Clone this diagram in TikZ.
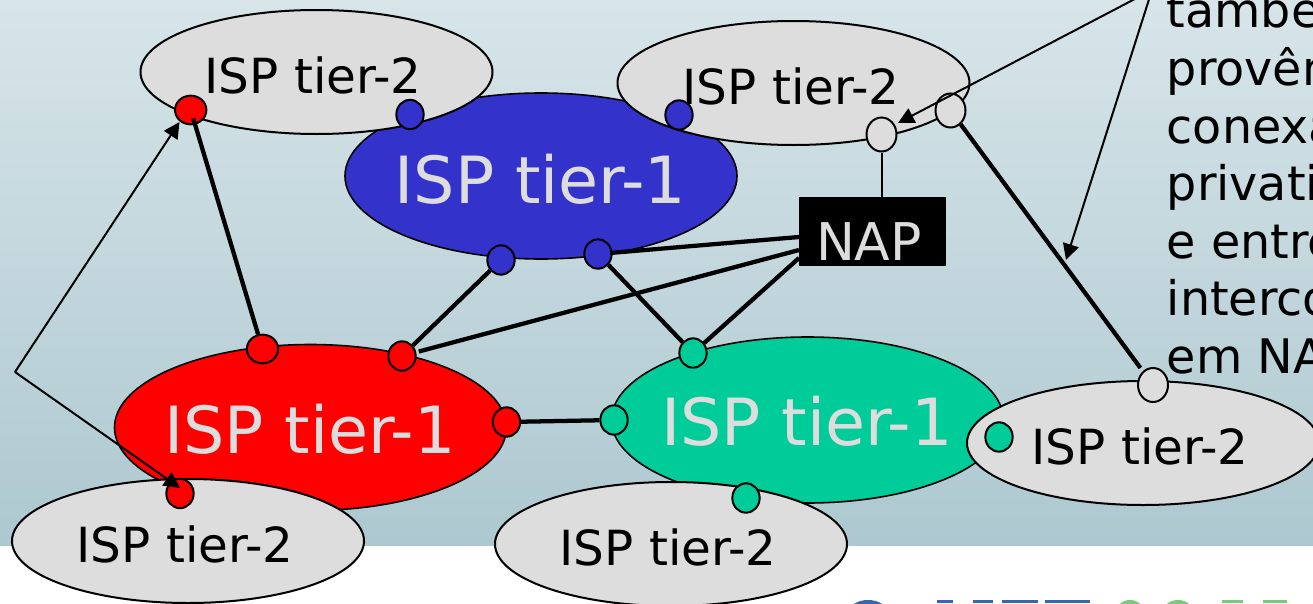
\documentclass[tikz,border=0pt]{standalone}
\usepackage{fontspec}
\setmainfont{DejaVu Sans}
\usetikzlibrary{arrows.meta,shapes.geometric}
\definecolor{bgtop}{HTML}{D7E5E9}
\definecolor{bgbot}{HTML}{ADC8D0}
\definecolor{ispgray}{HTML}{DDDDDD}
\definecolor{ispblue}{HTML}{3333CC}
\definecolor{ispred}{HTML}{FF0000}
\definecolor{ispgreen}{HTML}{00CC99}
\definecolor{logoblue}{HTML}{3A66AE}
\definecolor{logogreen}{HTML}{7CC87C}
\pgfdeclareverticalshading{bgfade}{100bp}{color(0bp)=(bgbot); color(25bp)=(bgbot); color(75bp)=(bgtop); color(100bp)=(bgtop)}
\tikzset{
	tiertwo/.style={ellipse, draw=black, line width=1.5pt, fill=ispgray, minimum width=264pt, minimum height=93pt, inner sep=0pt},
	tierone/.style={ellipse, draw=black, line width=1.2pt, minimum width=294pt, minimum height=124.5pt, inner sep=0pt},
	port/.style={ellipse, draw=black, line width=1.5pt, minimum width=20.5pt, minimum height=22pt, inner sep=0pt},
	wideport/.style={port, minimum width=23.5pt, minimum height=21.5pt},
	grayport/.style={port, fill=ispgray, minimum width=22.5pt, minimum height=25.5pt},
	twotext/.style={anchor=base, font=\fontsize{36.3}{36.3}\selectfont},
	onetext/.style={anchor=base, text=ispgray, font=\fontsize{48.8}{48.8}\selectfont},
	sideline/.style={anchor=base west, inner sep=0pt, font=\fontsize{35.7}{35.7}\selectfont},
	link/.style={line width=3.2pt},
	thinline/.style={line width=1.5pt},
	pointer/.style={line width=1.5pt, -{Triangle[length=12pt,width=12pt]}},
}

\begin{document}
\begin{tikzpicture}[x=0.75pt,y=-0.75pt]
	%%%%% START %%%%%
	\useasboundingbox (0,0) rectangle (1313,603);
	\clip (0,0) rectangle (1313,603);

	\fill[white] (0,0) rectangle (1313,603);
	\shade[shading=bgfade] (0,0) rectangle (1313,545);

	% logo, only its top edge is on the page
	\fill[logoblue] (868,612) ellipse (19 and 12);
	\fill[logoblue] (937,600) rectangle (953,603);
	\fill[logoblue] (973,600) rectangle (993,603);
	\fill[logoblue] (1002,600) rectangle (1038,603);
	\fill[logoblue] (1045,600) rectangle (1090,603);
	\fill[logogreen] (1130,612) ellipse (14 and 12);
	\fill[logogreen] (1178,612) ellipse (15 and 12);
	\fill[logogreen] (1222,600) rectangle (1243,603);
	\fill[logogreen] (1263,600) rectangle (1287,603);

	\node[tierone, fill=ispblue] (oneblue) at (541,176) {};
	\node[tierone, fill=ispred] (onered) at (310.5,427.5) {};
	\node[tierone, fill=ispgreen] (onegreen) at (807.5,420) {};

	\node[tiertwo] (twoleft) at (316.5,72) {};
	\node[tiertwo] (twomid) at (793.5,83) {};
	\node[tiertwo] (tworight) at (1143,443) {};
	\node[tiertwo] (twolow) at (188,541) {};
	\node[tiertwo] (twobottom) at (671,544) {};

	\node[twotext] (labelleft) at (313,93) {ISP tier-2};
	\node[twotext] (labelmid) at (791,104) {ISP tier-2};
	\node[twotext] (labelright) at (1140,464) {ISP tier-2};
	\node[twotext] (labellow) at (185,562) {ISP tier-2};
	\node[twotext] (labelbottom) at (668,565) {ISP tier-2};
	\node[onetext] (labelblue) at (540.5,203) {ISP tier-1};
	\node[onetext] (labelred) at (310,453) {ISP tier-1};
	\node[onetext] (labelgreen) at (807,445) {ISP tier-1};

	\node[fill=black, minimum width=110pt, minimum height=52pt, inner sep=0pt] (nap) at (872.5,231.5) {};
	\node[anchor=base, text=ispgray, font=\fontsize{39}{39}\selectfont] (naptext) at (869,260) {NAP};

	\node[wideport, fill=ispred] (redtop) at (190.7,110) {};
	\node[port, fill=ispblue] (blueleft) at (410,114.5) {};
	\node[port, fill=ispblue] (bluemid) at (679,115) {};
	\node[grayport] (graylow) at (881.5,134.5) {};
	\node[grayport] (grayhigh) at (950.5,110.5) {};
	\node[port, fill=ispblue] (bluea) at (501,260) {};
	\node[port, fill=ispblue] (blueb) at (598,254) {};
	\node[wideport, fill=ispred] (reda) at (262.5,349) {};
	\node[port, fill=ispred] (redb) at (402,356) {};
	\node[port, fill=ispred] (redc) at (506.5,422) {};
	\node[port, fill=ispgreen] (greena) at (693,353) {};
	\node[port, fill=ispgreen] (greenb) at (614,420) {};
	\node[port, fill=ispgreen] (greenc) at (746,498) {};
	\node[port, fill=ispgreen] (greend) at (999,437) {};
	\node[port, fill=ispred] (redlow) at (180,493.5) {};
	\node[grayport] (grayright) at (1153,385) {};

	\coordinate (napa) at (799,237);
	\coordinate (napb) at (799,250);
	\coordinate (napc) at (799,258);

	\draw[link, shorten <=-5pt] (redtop) -- (reda);
	\draw[link] (bluea) -- (redb);
	\draw[link] (blueb) -- (greena);
	\draw[link, shorten <=-2pt] (blueb) -- (napa);
	\draw[link, shorten >=2pt] (napb) -- (redb);
	\draw[link] (napc) -- (greena);
	\draw[link] (redc) -- (greenb);
	\draw[link, shorten >=3pt] (grayhigh) -- (grayright);
	\draw[thinline] (graylow.south) -- (graylow.south |- nap.north);

	\coordinate (apexleft) at (15,372);
	\coordinate (apexright) at (1152,-10);
	\coordinate (tipup) at (179.5,122);
	\coordinate (tipdown) at (180,488);
	\coordinate (tipgray) at (898,123);
	\coordinate (tipline) at (1066,260);

	\draw[pointer] (apexleft) -- (tipup);
	\draw[pointer] (apexleft) -- (tipdown);
	\draw[pointer] (apexright) -- (tipgray);
	\draw[pointer] (apexright) -- (tipline);

	\node[sideline] (sidea) at (1166.5,27) {també};
	\node[sideline] (sideb) at (1166.5,85) {provêm};
	\node[sideline] (sidec) at (1166.5,143) {conexão};
	\node[sideline] (sided) at (1166.5,200.5) {privati};
	\node[sideline] (sidee) at (1166.5,258) {e entre};
	\node[sideline] (sidef) at (1166.5,315) {interco};
	\node[sideline] (sideg) at (1166.5,373) {em NAP};
	%%%%% END %%%%%
\end{tikzpicture}
\end{document}
